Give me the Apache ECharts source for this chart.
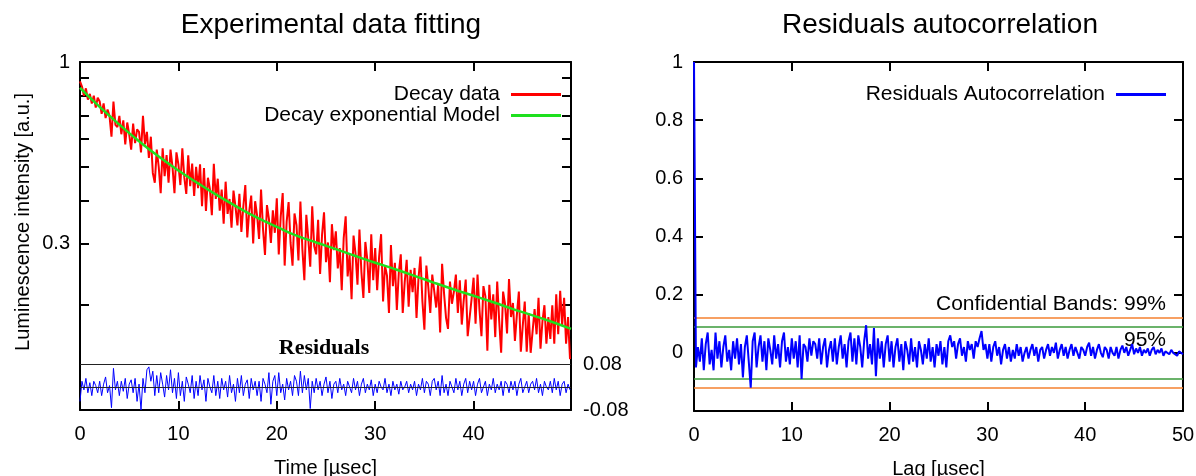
<!DOCTYPE html>
<html><head><meta charset="utf-8">
<script src="https://cdn.jsdelivr.net/npm/echarts@6/dist/echarts.min.js"></script>
<style>html,body{margin:0;padding:0;background:#fff}#c{width:1196px;height:476px}</style>
</head><body><div id="c"></div>
<script>
// ---------- data ----------
const timeStep = 0.2; // µs between decay samples
const decayData = [
  0.88,0.85,0.80,0.84,0.78,0.81,0.76,0.80,0.74,0.79,
  0.77,0.71,0.76,0.69,0.73,0.70,0.61,0.77,0.66,0.65,
  0.70,0.62,0.68,0.58,0.67,0.62,0.56,0.665,0.585,0.64,
  0.63,0.55,0.70,0.58,0.63,0.53,0.61,0.48,0.45,0.56,
  0.50,0.42,0.565,0.47,0.54,0.45,0.56,0.50,0.42,0.55,
  0.508,0.443,0.565,0.466,0.418,0.539,0.44,0.511,0.412,0.50,
  0.434,0.508,0.385,0.496,0.373,0.465,0.432,0.363,0.51,0.404,
  0.462,0.374,0.43,0.343,0.453,0.366,0.404,0.334,0.427,0.384,
  0.339,0.418,0.325,0.385,0.443,0.313,0.373,0.413,0.301,0.398,
  0.362,0.31,0.43,0.331,0.279,0.388,0.354,0.302,0.375,0.323,
  0.406,0.28,0.36,0.42,0.26,0.347,0.396,0.302,0.26,0.367,
  0.34,0.269,0.397,0.29,0.236,0.364,0.311,0.258,0.385,0.296,
  0.28,0.352,0.246,0.319,0.37,0.266,0.303,0.233,0.342,0.288,
  0.326,0.255,0.292,0.221,0.312,0.36,0.242,0.279,0.208,0.317,
  0.282,0.229,0.33,0.249,0.21,0.304,0.27,0.217,0.32,0.236,
  0.292,0.221,0.276,0.32,0.205,0.26,0.243,0.19,0.298,0.227,
  0.265,0.194,0.248,0.28,0.19,0.233,0.27,0.198,0.253,0.218,
  0.256,0.184,0.239,0.276,0.205,0.17,0.26,0.225,0.19,0.245,
  0.245,0.197,0.23,0.167,0.263,0.216,0.184,0.171,0.234,0.202,
  0.219,0.245,0.19,0.236,0.176,0.207,0.237,0.163,0.164,0.209,
  0.24,0.177,0.245,0.194,0.163,0.227,0.212,0.148,0.229,0.182,
  0.215,0.162,0.234,0.181,0.146,0.219,0.201,0.166,0.238,0.185,
  0.203,0.158,0.188,0.219,0.147,0.175,0.205,0.147,0.19,0.146,
  0.145,0.195,0.165,0.21,0.15,0.18,0.20,0.155,0.185,0.16,
  0.20,0.155,0.215,0.165,0.22,0.175,0.21,0.155,0.185,0.14
];
const modelTime = [0,2,4,6,8,10,12,14,16,18,20,22,24,26,28,30,32,34,36,38,40,42,44,46,48,49.9];
const modelValues = [0.843,0.743,0.661,0.592,0.535,0.488,0.448,0.413,0.383,0.357,0.336,0.317,0.303,
  0.290,0.277,0.265,0.254,0.243,0.232,0.222,0.213,0.204,0.195,0.187,0.179,0.171];
const residuals = [
  -0.05,0.02,-0.01,0.03,-0.02,0.015,-0.03,0.02,0.005,-0.02,
  0.02,-0.03,0.01,0.035,-0.02,0.005,-0.072,0.065,-0.01,0.02,
  -0.03,0.02,-0.015,0.03,-0.04,0.01,0.025,-0.02,0.03,-0.05,
  0.01,-0.08,0.03,-0.02,0.06,0.07,0.02,0.055,-0.03,0.04,
  -0.02,0.05,0.01,-0.035,0.04,-0.01,0.06,-0.02,0.03,-0.04,
  0.05,-0.03,0.02,-0.05,0.035,0.01,-0.02,0.04,-0.04,0.02,
  -0.03,0.04,-0.01,0.025,-0.05,0.03,0.0,-0.02,0.04,-0.03,
  0.02,-0.04,0.03,-0.01,0.02,-0.035,0.04,-0.02,0.01,-0.05,
  0.03,-0.02,0.04,-0.03,0.01,0.025,-0.04,0.03,-0.01,0.02,
  -0.03,0.02,-0.05,0.03,0.01,-0.02,0.05,-0.06,0.02,0.04,
  -0.03,0.05,-0.02,0.01,-0.045,0.03,-0.01,0.02,-0.03,0.04,
  0.02,-0.03,0.055,-0.02,0.04,-0.01,0.03,-0.075,0.02,-0.02,
  0.03,-0.01,0.02,-0.03,0.01,0.035,-0.02,0.02,-0.04,0.01,
  0.02,-0.02,0.03,-0.01,0.01,-0.03,0.02,0.0,-0.02,0.03,
  -0.01,0.02,-0.03,0.01,0.03,-0.02,0.01,-0.01,0.025,-0.03,
  0.01,-0.02,0.02,0.0,-0.01,0.03,-0.02,0.01,-0.03,0.02,
  -0.01,0.01,-0.025,0.02,-0.01,0.0,0.02,-0.02,0.01,-0.01,
  0.02,-0.03,0.01,-0.01,0.03,-0.02,0.02,0.01,-0.03,0.02,
  0.03,-0.01,0.02,-0.03,0.04,-0.02,0.01,-0.03,0.02,0.0,
  -0.02,0.03,-0.01,0.02,-0.03,0.01,0.03,-0.02,0.02,-0.01,
  0.02,-0.03,0.01,0.03,-0.02,0.0,0.02,-0.03,0.01,-0.01,
  0.03,-0.02,0.01,-0.01,0.02,-0.03,0.02,0.01,-0.02,0.02,
  -0.01,0.02,-0.03,0.01,0.03,-0.02,0.0,0.02,-0.02,0.01,
  0.02,-0.01,0.03,-0.02,0.01,-0.03,0.02,0.0,-0.01,0.02,
  -0.02,0.03,-0.01,0.02,-0.03,0.01,0.02,-0.02,0.01,-0.01
];
const lagStep = 0.2; // µs between autocorrelation lags
const autocorr = [
  1.0,
  -0.05,0.02,-0.03,0.05,-0.06,0.03,0.07,-0.04,0.01,-0.06,
  0.07,-0.02,0.04,-0.05,0.02,0.06,-0.03,0.01,-0.06,0.04,
  -0.02,0.05,-0.04,0.03,-0.085,0.02,0.06,-0.03,-0.12,0.04,
  0.07,-0.05,0.02,0.06,-0.03,0.04,-0.06,0.05,0.01,-0.04,
  0.06,-0.02,0.03,-0.05,0.04,0.07,-0.03,0.02,-0.04,0.05,
  -0.02,0.04,-0.05,0.06,-0.09,0.03,0.02,-0.03,0.05,-0.01,
  0.04,0.03,-0.02,0.05,-0.04,0.02,0.05,-0.05,0.01,0.04,
  -0.03,0.05,-0.04,0.02,0.06,-0.02,0.03,-0.05,0.04,0.07,
  -0.03,0.05,-0.04,0.06,0.02,-0.05,0.04,0.095,-0.02,0.03,
  -0.04,0.085,-0.08,0.05,-0.02,0.04,-0.05,0.03,0.06,-0.03,
  0.04,-0.05,0.02,0.05,-0.03,0.03,-0.06,0.04,0.01,-0.04,
  0.05,-0.03,0.02,-0.05,0.04,0.01,-0.04,0.03,-0.02,0.05,
  -0.03,0.02,-0.05,0.03,-0.01,0.04,-0.04,0.02,-0.05,0.04,
  0.06,0.02,0.04,-0.02,0.03,0.05,-0.01,0.02,-0.03,0.04,
  0.01,0.03,-0.02,0.04,0.02,0.05,0.075,0.01,0.03,-0.02,
  0.03,-0.03,0.02,0.04,-0.01,0.02,-0.04,0.01,0.03,-0.02,
  0.02,-0.03,0.01,-0.02,0.03,-0.01,0.02,-0.03,0.0,0.02,
  -0.02,0.01,0.03,-0.01,0.02,-0.03,0.01,0.02,-0.02,0.01,
  0.03,-0.01,0.02,0.0,0.035,-0.02,0.01,0.03,-0.01,0.02,
  -0.02,0.01,0.03,-0.01,0.02,0.0,-0.02,0.02,0.01,-0.01,
  0.02,0.035,-0.01,0.02,-0.02,0.01,0.03,0.0,-0.015,0.02,
  0.01,-0.02,0.02,0.0,-0.01,0.02,-0.02,0.01,0.025,0.0,
  0.02,-0.01,0.01,0.03,-0.005,0.015,0.0,0.02,-0.01,0.01,
  0.0,0.015,-0.01,0.01,0.02,-0.005,0.01,0.0,0.015,-0.01,
  0.005,0.01,-0.005,0.01,0.0,0.005,-0.01,0.005,0.0,-0.005
];
const band99 = [0.1152, -0.1152];
const band95 = [0.0877, -0.0877];
const logTicks = [0.2, 0.3, 0.4, 0.5, 0.6, 0.7, 0.8, 0.9, 1];
const logLabels = [0.3, 1];
const timeTicks = [10, 20, 30, 40];
const timeLabels = [0, 10, 20, 30, 40];
const residualLabels = [-0.08, 0.08];
const residualLines = [0, 0.08];

// ---------- chart ----------
const FONT = 'Liberation Sans';
const black = '#000';
const frameLine = { show: true, onZero: false, lineStyle: { color: black, width: 2 } };
const tickStyle = (extra) => Object.assign({ show: true, inside: true, length: 9, lineStyle: { color: black, width: 2 } }, extra || {});
const chart = echarts.init(document.getElementById('c'), null, { renderer: 'canvas' });

const option = {
  animation: false,
  backgroundColor: '#fff',
  textStyle: { fontFamily: FONT, color: black },
  grid: [
    { left: 80, top: 62, width: 491, height: 348, outerBoundsMode: 'none', containLabel: false },
    { left: 80, top: 364, width: 491, height: 46, outerBoundsMode: 'none', containLabel: false },
    { left: 694, top: 62, width: 489, height: 349, outerBoundsMode: 'none', containLabel: false }
  ],
  xAxis: [
    { type: 'value', gridIndex: 0, position: 'bottom', min: 0, max: 49.9,
      name: 'Time [µsec]', nameLocation: 'middle', nameGap: 48,
      nameTextStyle: { fontSize: 20, color: black, fontFamily: FONT },
      axisLine: frameLine,
      axisTick: tickStyle({ customValues: timeTicks }),
      axisLabel: { customValues: timeLabels, fontSize: 20, color: black, margin: 14, fontFamily: FONT },
      splitLine: { show: false } },
    { type: 'value', gridIndex: 0, position: 'top', min: 0, max: 49.9,
      axisLine: frameLine, axisTick: tickStyle({ customValues: timeTicks }),
      axisLabel: { show: false }, splitLine: { show: false } },
    { type: 'value', gridIndex: 1, min: 0, max: 49.9, show: false, axisLine: { onZero: false } },
    { type: 'value', gridIndex: 2, position: 'bottom', min: 0, max: 50, interval: 10,
      name: 'Lag [µsec]', nameLocation: 'middle', nameGap: 48,
      nameTextStyle: { fontSize: 20, color: black, fontFamily: FONT },
      axisLine: frameLine, axisTick: tickStyle(),
      axisLabel: { fontSize: 20, color: black, margin: 14, fontFamily: FONT },
      splitLine: { show: false } },
    { type: 'value', gridIndex: 2, position: 'top', min: 0, max: 50, interval: 10,
      axisLine: frameLine, axisTick: tickStyle(),
      axisLabel: { show: false }, splitLine: { show: false } }
  ],
  yAxis: [
    { type: 'log', logBase: 10, gridIndex: 0, position: 'left', min: 0.1, max: 1,
      axisLine: frameLine, axisTick: tickStyle({ customValues: logTicks }),
      axisLabel: { customValues: logLabels, fontSize: 20, color: black, margin: 10, fontFamily: FONT,
        formatter: v => String(+v.toFixed(2)) },
      splitLine: { show: false } },
    { type: 'log', logBase: 10, gridIndex: 0, position: 'right', min: 0.1, max: 1,
      axisLine: frameLine, axisTick: tickStyle({ customValues: logTicks }),
      axisLabel: { show: false }, splitLine: { show: false } },
    { type: 'value', gridIndex: 1, position: 'right', min: -0.08, max: 0.08,
      axisLine: { show: false, onZero: false }, axisTick: { show: false },
      axisLabel: { customValues: residualLabels, fontSize: 20, color: black, margin: 12, fontFamily: FONT,
        formatter: v => v.toFixed(2) },
      splitLine: { show: false } },
    { type: 'value', gridIndex: 2, position: 'left', min: -0.2, max: 1, interval: 0.2,
      axisLine: frameLine, axisTick: tickStyle(),
      axisLabel: { fontSize: 20, color: black, margin: 11, fontFamily: FONT,
        formatter: v => (v < -0.01 ? '' : String(+v.toFixed(1))) },
      splitLine: { show: false } },
    { type: 'value', gridIndex: 2, position: 'right', min: -0.2, max: 1, interval: 0.2,
      axisLine: frameLine, axisTick: tickStyle(),
      axisLabel: { show: false }, splitLine: { show: false } }
  ],
  legend: [
    { orient: 'vertical', right: 630, top: 79, align: 'right', itemWidth: 50, itemHeight: 3, itemGap: 0,
      icon: 'rect', textStyle: { fontSize: 21, color: black, fontFamily: FONT, padding: [0, 6, 0, 0] },
      data: ['Decay data', 'Decay exponential Model'] },
    { orient: 'vertical', right: 25, top: 79, align: 'right', itemWidth: 50, itemHeight: 3,
      icon: 'rect', textStyle: { fontSize: 21, color: black, fontFamily: FONT, padding: [0, 6, 0, 0] },
      data: ['Residuals Autocorrelation'] }
  ],
  graphic: [
    { type: 'text', x: 331, y: 25, style: { text: 'Experimental data fitting', font: '28px "Liberation Sans"', fill: black, align: 'center', verticalAlign: 'middle' } },
    { type: 'text', x: 940, y: 25, style: { text: 'Residuals autocorrelation', font: '28px "Liberation Sans"', fill: black, align: 'center', verticalAlign: 'middle' } },
    { type: 'text', x: 23, y: 222, rotation: Math.PI / 2, style: { text: 'Luminescence intensity [a.u.]', font: '20px "Liberation Sans"', fill: black, align: 'center', verticalAlign: 'middle' } },
    { type: 'text', x: 324, y: 348, style: { text: 'Residuals', font: 'bold 22px "Liberation Serif"', fill: black, align: 'center', verticalAlign: 'middle' } },
    { type: 'text', x: 1166, y: 304, style: { text: 'Confidential Bands: 99%', font: '21px "Liberation Sans"', fill: black, align: 'right', verticalAlign: 'middle' } },
    { type: 'text', x: 1166, y: 340, style: { text: '95%', font: '21px "Liberation Sans"', fill: black, align: 'right', verticalAlign: 'middle' } }
  ],
  series: [
    { name: 'Decay data', type: 'line', xAxisIndex: 0, yAxisIndex: 0, showSymbol: false, symbol: 'none',
      color: '#ff0000', lineStyle: { color: '#ff0000', width: 2 }, z: 2,
      data: decayData.map((v, i) => [i * timeStep, v]) },
    { name: 'Decay exponential Model', type: 'line', xAxisIndex: 0, yAxisIndex: 0, showSymbol: false, symbol: 'none',
      smooth: true, color: '#1ee01e', lineStyle: { color: '#1ee01e', width: 2.5 }, z: 3,
      data: modelTime.map((t, i) => [t, modelValues[i]]) },
    { name: 'Residuals', type: 'line', xAxisIndex: 2, yAxisIndex: 2, showSymbol: false, symbol: 'none',
      color: '#0000ff', lineStyle: { color: '#0000ff', width: 1 }, z: 4,
      data: residuals.map((v, i) => [i * timeStep, v]),
      markLine: { silent: true, symbol: 'none', label: { show: false },
        lineStyle: { color: '#222', width: 1, type: 'solid' },
        data: residualLines.map(v => ({ yAxis: v })) } },
    { name: 'Residuals Autocorrelation', type: 'line', xAxisIndex: 3, yAxisIndex: 3, showSymbol: false, symbol: 'none',
      color: '#0000ff', lineStyle: { color: '#0000ff', width: 2 }, z: 4,
      data: autocorr.map((v, i) => [i * lagStep, v]),
      markLine: { silent: true, symbol: 'none', label: { show: false }, z: 1,
        data: band99.map(v => ({ yAxis: v, lineStyle: { color: '#f5802f', width: 1.5, type: 'solid' } }))
          .concat(band95.map(v => ({ yAxis: v, lineStyle: { color: '#3a9a3a', width: 1.5, type: 'solid' } }))) } }
  ]
};
chart.setOption(option);
</script>
</body></html>
